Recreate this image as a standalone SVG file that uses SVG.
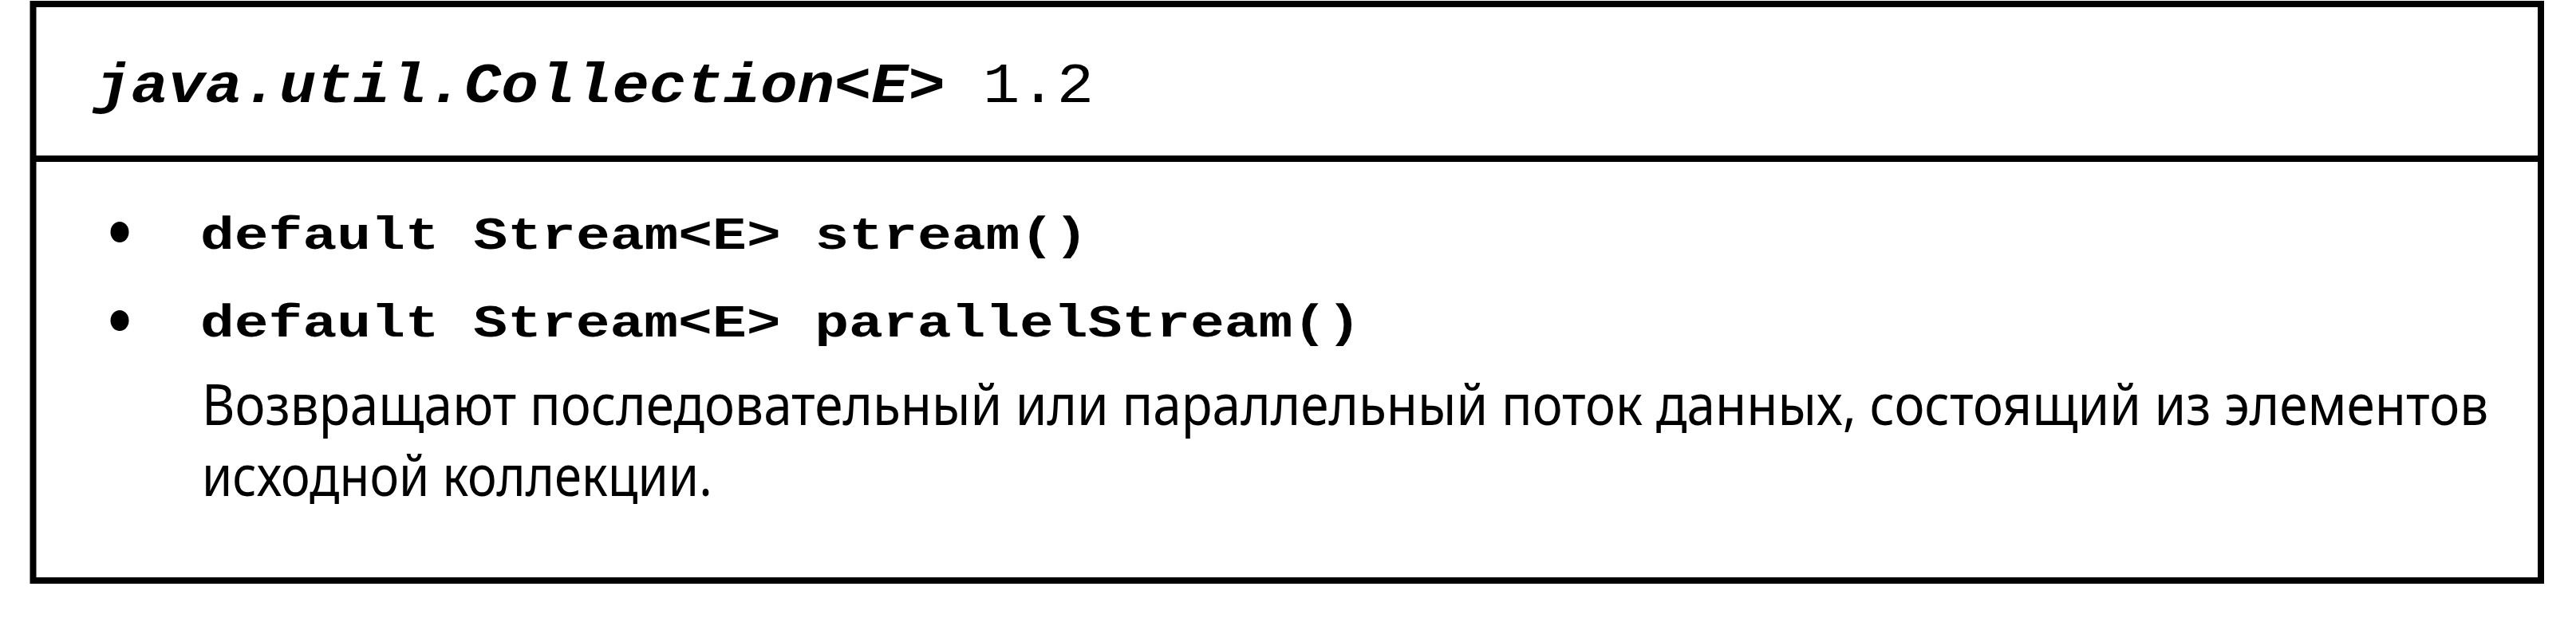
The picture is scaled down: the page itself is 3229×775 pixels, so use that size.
<svg xmlns="http://www.w3.org/2000/svg" width="3229" height="775" viewBox="0 0 3229 775">
<style>
.frame{fill:none;stroke:#000;stroke-width:8}
.sep{stroke:#000;stroke-width:8}
.title{font-family:"Liberation Mono","DejaVu Sans Mono",monospace;font-size:71px;font-weight:bold;font-style:italic;fill:#000}
.ver{font-family:"Liberation Mono","DejaVu Sans Mono",monospace;font-size:71px;fill:#000}
.code{font-family:"Liberation Mono","DejaVu Sans Mono",monospace;font-size:58px;font-weight:bold;fill:#000}
.body{font-family:"Noto Sans","DejaVu Sans",sans-serif;font-size:71px;fill:#000}
.dot{fill:#000}
</style>
<rect width="3229" height="775" fill="#fff"/>
<g id="box">
<rect class="frame" x="41.5" y="5" width="3143.5" height="723"/>
<line class="sep" x1="41.5" y1="199" x2="3185" y2="199"/>
</g>
<g id="header">
<text class="title" x="118" y="128" textLength="1067" lengthAdjust="spacingAndGlyphs">java.util.Collection&lt;E&gt;</text>
<text class="ver" x="1232" y="128" textLength="139" lengthAdjust="spacingAndGlyphs">1.2</text>
</g>
<g id="methods">
<ellipse class="dot" cx="150" cy="291" rx="11.5" ry="13"/>
<text class="code" x="251" y="312" textLength="1113" lengthAdjust="spacingAndGlyphs">default Stream&lt;E&gt; stream()</text>
<ellipse class="dot" cx="150" cy="402" rx="11.5" ry="13"/>
<text class="code" x="251" y="422" textLength="1455" lengthAdjust="spacingAndGlyphs">default Stream&lt;E&gt; parallelStream()</text>
</g>
<g id="description" transform="translate(253,0) scale(0.886,1)">
<text class="body" x="0" y="533" textLength="3235" lengthAdjust="spacingAndGlyphs">Возвращают последовательный или параллельный поток данных, состоящий из элементов</text>
<text class="body" x="0" y="622" textLength="722" lengthAdjust="spacingAndGlyphs">исходной коллекции.</text>
</g>
</svg>
